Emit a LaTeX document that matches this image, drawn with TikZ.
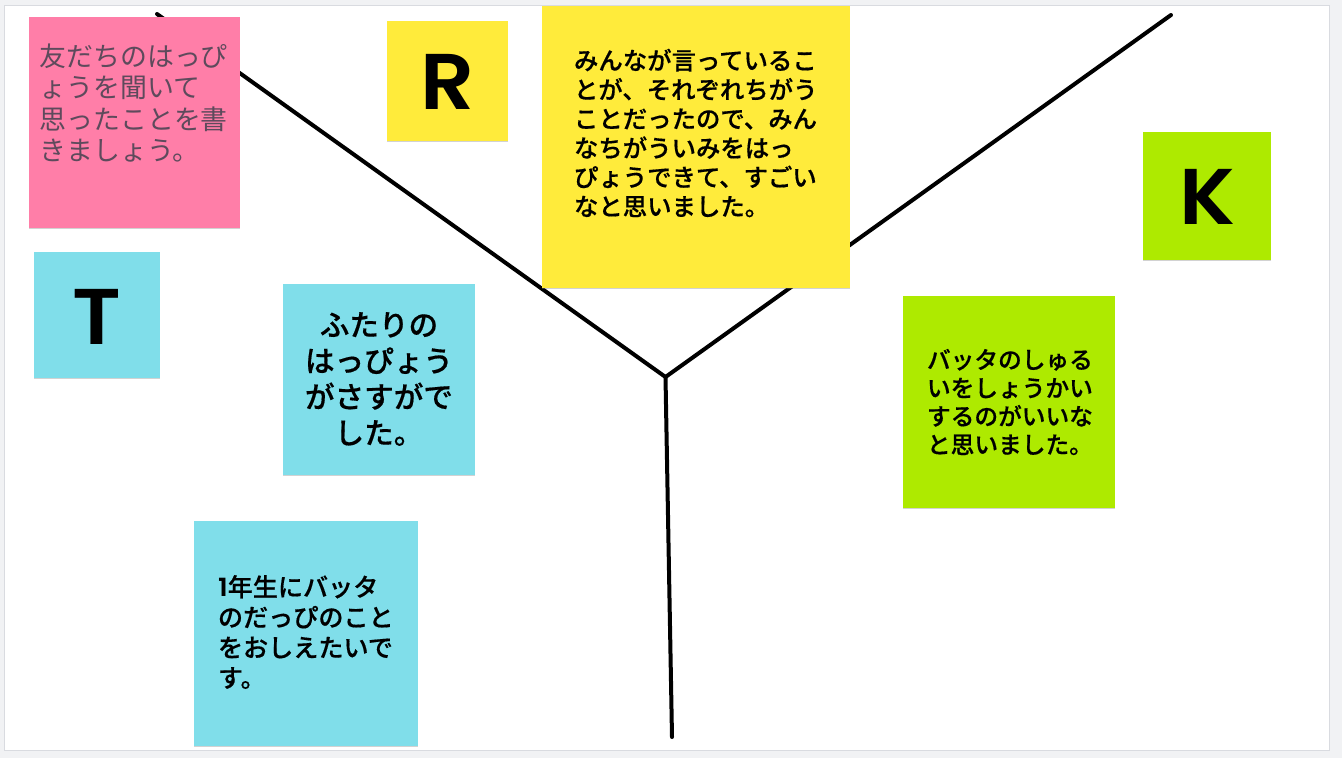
\documentclass[tikz,border=0pt]{standalone}
\usepackage{fontspec}
\usetikzlibrary{shadows}
\newfontfamily\jpfont{Noto Sans CJK JP}
\newfontfamily\jpmed[FakeBold=0.5]{Noto Sans CJK JP Medium}
\newfontfamily\latinfont[FakeStretch=1.07]{Poppins SemiBold}
\definecolor{pagebg}{HTML}{F1F2F4}
\definecolor{frameline}{HTML}{D9DBE0}
\definecolor{notepink}{HTML}{FF7EA8}
\definecolor{noteyellow}{HTML}{FFEB3B}
\definecolor{notecyan}{HTML}{80DEEA}
\definecolor{notelime}{HTML}{AEEA00}
\definecolor{pinktext}{HTML}{5E4A5C}
\tikzset{
  note/.style={anchor=north west,inner sep=0pt,outer sep=0pt,
    drop shadow={opacity=.35,shadow xshift=0pt,shadow yshift=-1.3pt}},
  fishline/.style={line width=4pt,draw=black,line cap=round},
  notetext/.style={anchor=west,inner sep=0pt,outer sep=0pt,align=left,text=black},
  bigletter/.style={inner sep=0pt,outer sep=0pt,text=black,font=\latinfont\fontsize{79}{79}\selectfont},
}
\begin{document}
\begin{tikzpicture}[x=1pt,y=-1pt]
\useasboundingbox (0,0) rectangle (1342,758);
\fill[pagebg] (0,0) rectangle (1342,758);
\fill[white,draw=frameline,line width=1pt] (4,5.5) rectangle (1329.5,750);
\fill[pagebg] (0,750.5) rectangle (1342,758);
% fishbone lines
\coordinate (hub) at (665.5,377);
\coordinate (leftend) at (157,14);
\coordinate (rightend) at (1171,15);
\coordinate (bottomend) at (672,737);
\draw[fishline] (leftend) -- (hub);
\draw[fishline] (rightend) -- (hub);
\draw[fishline] (hub) -- (bottomend);
% sticky notes
\node[note,fill=notepink,minimum width=211pt,minimum height=211pt] (pinknote) at (29,17) {};
\node[note,fill=noteyellow,minimum width=121pt,minimum height=120pt] (rnote) at (387,21) {};
\node[note,fill=notecyan,minimum width=126pt,minimum height=126pt] (tnote) at (34,252) {};
\node[note,fill=notelime,minimum width=128pt,minimum height=128pt] (knote) at (1143,132) {};
\node[note,fill=noteyellow,minimum width=308pt,minimum height=282pt] (ynote) at (542,6) {};
\node[note,fill=notecyan,minimum width=192pt,minimum height=191pt] (cnote) at (283,284) {};
\node[note,fill=notelime,minimum width=212pt,minimum height=212pt] (lnote) at (903,296) {};
\node[note,fill=notecyan,minimum width=224pt,minimum height=225pt] (bnote) at (194,521) {};
% letters
\node[bigletter] (rletter) at (448,82) {R};
\node[bigletter] (tletter) at (97,317) {T};
\node[bigletter] (kletter) at (1208,197) {K};
% texts
\node[notetext,text=pinktext,font=\jpfont\fontsize{26.9}{31.6}\selectfont] (pinktxt) at (39.5,103)
 {友だちのはっぴ\\ょうを聞いて\\思ったことを書\\きましょう。};
\node[notetext,font=\jpmed\fontsize{24.4}{29.2}\selectfont] (ytxt) at (574,133)
 {みんなが言っているこ\\とが、それぞれちがう\\ことだったので、みん\\なちがういみをはっ\\ぴょうできて、すごい\\なと思いました。};
\node[notetext,align=center,anchor=center,font=\jpmed\fontsize{29.6}{36}\selectfont] (ctxt) at (379,379)
 {ふたりの\\はっぴょう\\がさすがで\\した。};
\node[notetext,font=\jpmed\fontsize{23.7}{28.3}\selectfont] (ltxt) at (927,402)
 {バッタのしゅる\\いをしょうかい\\するのがいいな\\と思いました。};
\node[notetext,font=\jpmed\fontsize{25.1}{30.3}\selectfont] (btxt) at (218,632)
 {{\latinfont 1}年生にバッタ\\のだっぴのこと\\をおしえたいで\\す。};
\end{tikzpicture}
\end{document}
